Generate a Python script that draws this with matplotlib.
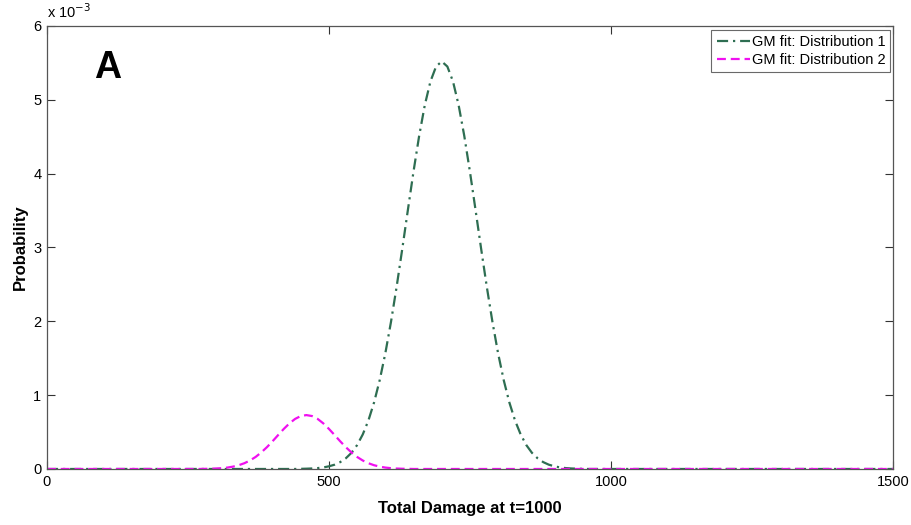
import matplotlib.pyplot as plt
import numpy as np

plt.rcParams['font.family'] = ['Liberation Sans', 'DejaVu Sans']

# Gaussian-mixture component curves, probability in units of 1e-3
dist1_x = np.r_[0, np.arange(440, 970, 10), 1500]
dist1_p = [0,
           0.000, 0.002, 0.004, 0.007, 0.012, 0.021, 0.036, 0.058, 0.093, 0.145,
           0.219, 0.324, 0.468, 0.657, 0.900, 1.202, 1.566, 1.990, 2.465, 2.978,
           3.508, 4.029, 4.512, 4.928, 5.249, 5.451, 5.520, 5.451, 5.249, 4.928,
           4.512, 4.029, 3.508, 2.978, 2.465, 1.990, 1.566, 1.202, 0.900, 0.657,
           0.468, 0.324, 0.219, 0.145, 0.093, 0.058, 0.036, 0.021, 0.012, 0.007,
           0.004, 0.002, 0.000,
           0]

dist2_x = np.r_[0, np.arange(270, 660, 10), 1500]
dist2_p = [0,
           0.000, 0.002, 0.003, 0.006, 0.011, 0.019, 0.032, 0.051, 0.078, 0.115,
           0.163, 0.224, 0.295, 0.375, 0.460, 0.543, 0.618, 0.678, 0.717, 0.730,
           0.717, 0.678, 0.618, 0.543, 0.460, 0.375, 0.295, 0.224, 0.163, 0.115,
           0.078, 0.051, 0.032, 0.019, 0.011, 0.006, 0.003, 0.002, 0.000,
           0]

x_ticks = [0, 500, 1000, 1500]
y_ticks = [0, 1, 2, 3, 4, 5, 6]

fig = plt.figure(figsize=(9.12, 5.25), dpi=100)
ax = fig.add_axes([0.0515, 0.1067, 0.9275, 0.8438])

ax.plot(dist1_x, dist1_p, color='#2e6e52', linewidth=1.6,
        linestyle=(0, (5, 2.2, 1.0, 2.2)), label='GM fit: Distribution 1')
ax.plot(dist2_x, dist2_p, color='#f010f0', linewidth=1.6,
        linestyle=(0, (4, 2.2)), label='GM fit: Distribution 2')

ax.set_xlim(0, 1500)
ax.set_ylim(0, 6)
ax.set_xticks(x_ticks)
ax.set_yticks(y_ticks)
ax.tick_params(direction='in', length=6, width=0.8, top=True, right=True,
               labelsize=10.5, colors='#333333', labelcolor='black', pad=4)
for side in ax.spines.values():
    side.set_color('#555555')
    side.set_linewidth(0.9)

ax.set_xlabel('Total Damage at t=1000', fontsize=12, fontweight='bold', labelpad=9)
ax.set_ylabel('Probability', fontsize=12, fontweight='bold', labelpad=4)

# MATLAB-style exponent marker above the y axis
ax.text(0.0, 1.012, r'x 10$^{-3}$', transform=ax.transAxes, fontsize=10.5,
        ha='left', va='bottom')

# panel letter
ax.text(0.056, 0.905, 'A', transform=ax.transAxes, fontsize=27,
        fontweight='bold', ha='left', va='center')

leg = ax.legend(loc='upper right', bbox_to_anchor=(0.997, 0.992), fontsize=10.5,
                frameon=True, fancybox=False, handlelength=2.3,
                handletextpad=0.1, borderpad=0.35, labelspacing=0.3,
                borderaxespad=0.0)
leg.get_frame().set_edgecolor('#444444')
leg.get_frame().set_linewidth(0.8)

plt.savefig('out.png', dpi=100)
